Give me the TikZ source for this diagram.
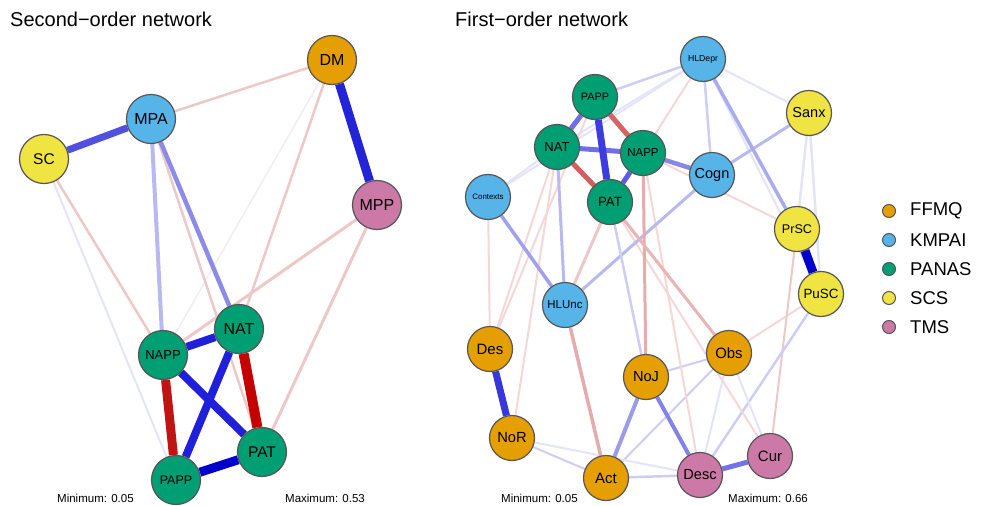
\documentclass[tikz,border=0pt]{standalone}
\usepackage{fontspec}
\setmainfont{Liberation Sans}
\pgfdeclarelayer{edges}
\pgfsetlayers{edges,main}
\newcommand\fsz[1]{\fontsize{#1}{#1}\selectfont}
\definecolor{cOr}{HTML}{E69F00}
\definecolor{cBl}{HTML}{56B4E9}
\definecolor{cGr}{HTML}{009E73}
\definecolor{cYe}{HTML}{F0E442}
\definecolor{cPk}{HTML}{CC79A7}
\definecolor{ndl}{HTML}{555555}
% edge colours
\definecolor{fb}{RGB}{228,228,248}
\definecolor{fr}{RGB}{245,215,215}
\definecolor{lb}{RGB}{205,205,245}
\definecolor{lr}{RGB}{238,200,200}
\definecolor{mb}{RGB}{185,185,242}
\definecolor{mr}{RGB}{230,172,172}
\definecolor{grey}{RGB}{238,238,244}
\definecolor{bA}{RGB}{140,140,232}
\definecolor{bB}{RGB}{80,80,225}
\definecolor{bC}{RGB}{35,35,215}
\definecolor{bD}{RGB}{32,32,220}
\definecolor{bE}{RGB}{0,0,205}
\definecolor{rA}{RGB}{192,20,20}
\definecolor{rB}{RGB}{196,0,0}
\definecolor{bF}{RGB}{170,170,238}
\definecolor{rC}{RGB}{232,180,180}
\definecolor{bG}{RGB}{160,160,238}
\definecolor{bH}{RGB}{155,155,236}
\definecolor{bI}{RGB}{130,130,232}
\definecolor{bJ}{RGB}{115,115,232}
\definecolor{bK}{RGB}{135,135,232}
\definecolor{bL}{RGB}{55,55,220}
\definecolor{bM}{RGB}{110,110,230}
\definecolor{bN}{RGB}{90,90,230}
\definecolor{rD}{RGB}{215,100,100}
\definecolor{rE}{RGB}{210,95,95}
\definecolor{bO}{RGB}{60,60,225}
\tikzset{
  nd/.style={circle, draw=ndl, line width=1.2pt, inner sep=0pt, minimum size=49pt, text=black},
  sn/.style={nd, minimum size=45pt},
  leg/.style={circle, draw=ndl, line width=1pt, inner sep=0pt, minimum size=13pt},
  ed/.style 2 args={draw=#1, line width=#2pt},
  ttl/.style={anchor=base west, font=\fsz{20}, inner sep=0pt},
  mm/.style={anchor=base west, font=\fsz{11.5}, inner sep=0pt},
  lgt/.style={anchor=west, font=\fsz{18.5}, inner sep=0pt}
}
\begin{document}
\begin{tikzpicture}[x=1pt,y=-1pt]
\useasboundingbox (0,0) rectangle (989,506);
% titles
\node[ttl] (t1) at (10,26.5) {Second−order network};
\node[ttl] (t2) at (455,26) {First−order network};
% ---------- left network nodes
\node[nd, fill=cOr, font=\fsz{16}] (lDM) at (332,60) {DM};
\node[nd, fill=cBl, font=\fsz{16}] (lMPA) at (151,119) {MPA};
\node[nd, fill=cYe, font=\fsz{15.5}] (lSC) at (44,159) {SC};
\node[nd, fill=cPk, font=\fsz{16}] (lMPP) at (377,205) {MPP};
\node[nd, fill=cGr, font=\fsz{13}] (lNAPP) at (163,355) {NAPP};
\node[nd, fill=cGr, font=\fsz{16}] (lNAT) at (239,329) {NAT};
\node[nd, fill=cGr, font=\fsz{15.5}] (lPAT) at (262,452) {PAT};
\node[nd, fill=cGr, font=\fsz{12.5}] (lPAPP) at (176,480) {PAPP};
% ---------- right network nodes
\node[sn, fill=cBl, font=\fsz{8.7}] (rHLDepr) at (703,59) {HLDepr};
\node[sn, fill=cGr, font=\fsz{10.8}] (rPAPP) at (595,97) {PAPP};
\node[sn, fill=cGr, font=\fsz{13}] (rNAT) at (557,147) {NAT};
\node[sn, fill=cGr, font=\fsz{11.5}] (rNAPP) at (643,153) {NAPP};
\node[sn, fill=cGr, font=\fsz{13.3}] (rPAT) at (610,202) {PAT};
\node[sn, fill=cBl, font=\fsz{14.5}] (rCogn) at (712,175) {Cogn};
\node[sn, fill=cBl, font=\fsz{7.9}] (rContexts) at (488,197) {Contexts};
\node[sn, fill=cYe, font=\fsz{14.5}] (rSanx) at (809,113) {Sanx};
\node[sn, fill=cYe, font=\fsz{12.6}] (rPrSC) at (797,229) {PrSC};
\node[sn, fill=cYe, font=\fsz{13.4}] (rPuSC) at (821,294) {PuSC};
\node[sn, fill=cBl, font=\fsz{11.5}] (rHLUnc) at (565,305) {HLUnc};
\node[sn, fill=cOr, font=\fsz{15}] (rDes) at (490,349) {Des};
\node[sn, fill=cOr, font=\fsz{14.6}] (rNoJ) at (646,377) {NoJ};
\node[sn, fill=cOr, font=\fsz{14.9}] (rObs) at (729,353) {Obs};
\node[sn, fill=cOr, font=\fsz{14.7}] (rNoR) at (512,438) {NoR};
\node[sn, fill=cOr, font=\fsz{15}] (rAct) at (606,478) {Act};
\node[sn, fill=cPk, font=\fsz{14.6}] (rDesc) at (700,475) {Desc};
\node[sn, fill=cPk, font=\fsz{15}] (rCur) at (770,456) {Cur};
% ---------- min / max labels
\node[mm] (mn1) at (57,502) {Minimum: 0.05};
\node[mm] (mx1) at (285,502) {Maximum: 0.53};
\node[mm] (mn2) at (501,502) {Minimum: 0.05};
\node[mm] (mx2) at (728,502) {Maximum: 0.66};
% ---------- legend
\node[leg, fill=cOr] (g1) at (889,211) {};
\node[leg, fill=cBl] (g2) at (889,240) {};
\node[leg, fill=cGr] (g3) at (889,269) {};
\node[leg, fill=cYe] (g4) at (889,298) {};
\node[leg, fill=cPk] (g5) at (889,327) {};
\node[lgt] (l1) at (910,211) {FFMQ};
\node[lgt] (l2) at (910,240) {KMPAI};
\node[lgt] (l3) at (910,269) {PANAS};
\node[lgt] (l4) at (910,298) {SCS};
\node[lgt] (l5) at (910,327) {TMS};
% ---------- edges
\begin{pgfonlayer}{edges}
% left network
\draw[ed={grey}{1.5}] (lDM) -- (lNAPP);
\draw[ed={fb}{2}] (lSC) -- (lPAPP);
\draw[ed={lr}{2.5}] (lSC) -- (lNAPP);
\draw[ed={lr}{2.5}] (lMPA) -- (lDM);
\draw[ed={lr}{2.5}] (lMPA) -- (lPAT);
\draw[ed={lr}{2.5}] (lDM) -- (lNAT);
\draw[ed={lr}{3}] (lMPP) -- (lNAPP);
\draw[ed={lr}{3}] (lMPP) -- (lPAT);
\draw[ed={mb}{4}] (lMPA) -- (lNAPP);
\draw[ed={bA}{4.5}] (lMPA) -- (lNAT);
\draw[ed={bB}{7}] (lSC) -- (lMPA);
\draw[ed={bC}{9}] (lDM) -- (lMPP);
\draw[ed={bD}{8}] (lNAPP) -- (lNAT);
\draw[ed={bD}{8}] (lNAPP) -- (lPAT);
\draw[ed={bD}{8}] (lNAT) -- (lPAPP);
\draw[ed={bE}{9}] (lPAPP) -- (lPAT);
\draw[ed={rA}{9}] (lNAPP) -- (lPAPP);
\draw[ed={rB}{10}] (lNAT) -- (lPAT);
% right network: faint
\draw[ed={fb}{2}] (rHLDepr) -- (rSanx);
\draw[ed={fb}{2}] (rHLDepr) -- (rNAT);
\draw[ed={fb}{2}] (rHLDepr) -- (rContexts);
\draw[ed={fb}{2}] (rHLDepr) -- (rPuSC);
\draw[ed={lb}{2.5}] (rHLDepr) -- (rCogn);
\draw[ed={fr}{2}] (rHLDepr) -- (rNAPP);
\draw[ed={fb}{2.5}] (rSanx) -- (rPrSC);
\draw[ed={fb}{2.5}] (rSanx) -- (rPuSC);
\draw[ed={fb}{2}] (rContexts) -- (rNAT);
\draw[ed={fr}{2}] (rContexts) -- (rDes);
\draw[ed={fr}{2}] (rDes) -- (rNAT);
\draw[ed={fr}{2}] (rDes) -- (rPAPP);
\draw[ed={fr}{2}] (rNoR) -- (rNAT);
\draw[ed={fr}{2}] (rNAPP) -- (rPrSC);
\draw[ed={fr}{2}] (rObs) -- (rPuSC);
\draw[ed={lr}{2}] (rCur) -- (rPrSC);
\draw[ed={lb}{2.5}] (rDesc) -- (rPuSC);
\draw[ed={fb}{2}] (rObs) -- (rCur);
\draw[ed={lb}{2}] (rObs) -- (rNoJ);
\draw[ed={lb}{2}] (rObs) -- (rAct);
\draw[ed={fb}{2}] (rObs) -- (rDesc);
\draw[ed={lb}{2}] (rNoR) -- (rAct);
\draw[ed={fb}{2}] (rNoR) -- (rDesc);
\draw[ed={lb}{2.5}] (rAct) -- (rDesc);
\draw[ed={fr}{2}] (rPAT) -- (rCur);
\draw[ed={fr}{2}] (rNAPP) -- (rDesc);
\draw[ed={mb}{3}] (rSanx) -- (rCogn);
% right network: medium
\draw[ed={lb}{2.5}] (rHLDepr) -- (rPAPP);
\draw[ed={bF}{3.5}] (rHLDepr) -- (rPrSC);
\draw[ed={mb}{3}] (rCogn) -- (rHLUnc);
\draw[ed={mb}{3}] (rNAT) -- (rHLUnc);
\draw[ed={lr}{3}] (rPAT) -- (rHLUnc);
\draw[ed={lb}{2.5}] (rPAT) -- (rNoJ);
\draw[ed={mr}{3}] (rNAPP) -- (rNoJ);
\draw[ed={rC}{3}] (rPAT) -- (rObs);
\draw[ed={mr}{3.5}] (rHLUnc) -- (rAct);
\draw[ed={bG}{3.5}] (rContexts) -- (rHLUnc);
\draw[ed={bH}{4}] (rNoJ) -- (rAct);
\draw[ed={bI}{4}] (rNoJ) -- (rDesc);
\draw[ed={bJ}{5}] (rDesc) -- (rCur);
\draw[ed={bK}{4.5}] (rNAPP) -- (rCogn);
% right network: strong
\draw[ed={bL}{7}] (rDes) -- (rNoR);
\draw[ed={bE}{9}] (rPrSC) -- (rPuSC);
\draw[ed={bM}{5}] (rPAPP) -- (rNAT);
\draw[ed={bM}{5}] (rNAT) -- (rNAPP);
\draw[ed={bN}{5}] (rNAPP) -- (rPAT);
\draw[ed={rD}{5}] (rPAPP) -- (rNAPP);
\draw[ed={rE}{5}] (rNAT) -- (rPAT);
\draw[ed={bO}{7}] (rPAPP) -- (rPAT);
\end{pgfonlayer}
\end{tikzpicture}
\end{document}
